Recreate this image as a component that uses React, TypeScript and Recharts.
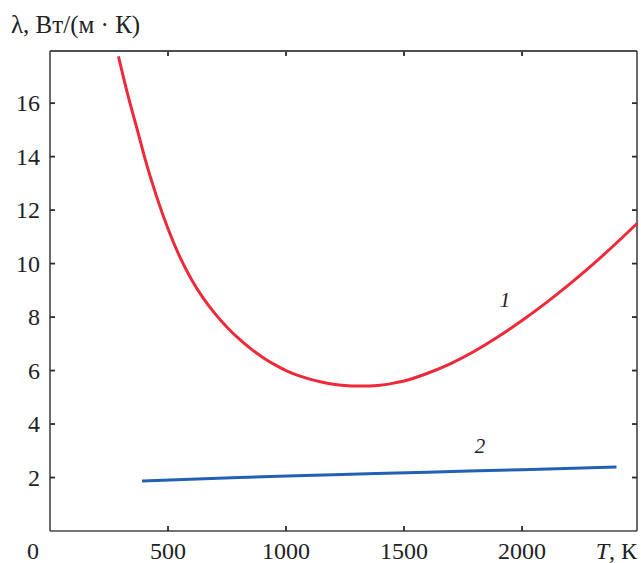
import { LineChart, Line, XAxis, YAxis, ReferenceDot, ReferenceLine } from 'recharts';

// кривая 1
const redT = [290, 330, 370, 400, 450, 500, 550, 600, 650, 700, 750, 800, 850, 900, 950, 1000, 1050, 1100, 1150, 1200, 1250, 1300, 1350, 1400, 1450, 1500, 1600, 1700, 1800, 1900, 2000, 2100, 2200, 2300, 2400, 2487];
const redLambda = [17.75, 16.3, 15.0, 14.0, 12.55, 11.3, 10.25, 9.4, 8.7, 8.12, 7.62, 7.19, 6.82, 6.5, 6.23, 6.0, 5.82, 5.68, 5.57, 5.49, 5.44, 5.42, 5.42, 5.45, 5.52, 5.61, 5.9, 6.27, 6.73, 7.27, 7.87, 8.52, 9.22, 9.97, 10.77, 11.5];

// кривая 2
const blueT = [390, 800, 1200, 1600, 2000, 2400];
const blueLambda = [1.87, 2.0, 2.1, 2.2, 2.29, 2.39];

const xTicks = [0, 500, 1000, 1500, 2000];
const yTicks = [2, 4, 6, 8, 10, 12, 14, 16];
const X_MAX = 2487;
const Y_MAX = 17.95;

const redData = redT.map((T, i) => ({ T, v: redLambda[i] }));
const blueData = blueT.map((T, i) => ({ T, v: blueLambda[i] }));

const W = 641;
const H = 563;
const MARGIN = { top: 51, right: 4, left: 0, bottom: 0 };
const PLOT_RIGHT = W - MARGIN.right;

const FONT = '"Liberation Serif", "Times New Roman", serif';
const AXIS = '#454545';
const TICK = '#2b2b2b';

const BottomTick = ({ x, y, payload }: any) => (
    <g>
        {payload.value !== 0 && <line x1={x} y1={y} x2={x} y2={y - 5} stroke={TICK} strokeWidth={1.8} />}
        <text x={payload.value === 0 ? x - 17 : x} y={y + 28} textAnchor="middle" fontFamily={FONT} fontSize={24} fill="#222">
            {payload.value}
        </text>
    </g>
);

// левые метки, зеркальные риски справа; на Y_MAX — верхняя рамка
const LeftTick = ({ x, y, payload }: any) => {
    if (payload.value === Y_MAX) {
        return <line x1={x} y1={y} x2={PLOT_RIGHT} y2={y} stroke={AXIS} strokeWidth={1.6} />;
    }
    return (
        <g>
            <line x1={x} y1={y} x2={x + 5} y2={y} stroke={TICK} strokeWidth={1.8} />
            <line x1={PLOT_RIGHT} y1={y} x2={PLOT_RIGHT - 5} y2={y} stroke={TICK} strokeWidth={1.8} />
            <text x={x - 10} y={y + 8} textAnchor="end" fontFamily={FONT} fontSize={24} fill="#222">
                {payload.value}
            </text>
        </g>
    );
};

export default function App() {
    return (
        <div style={{ position: 'absolute', left: 0, top: 0, width: W, height: H, background: '#fff' }}>
            <div style={{ position: 'absolute', left: 11, top: 12, fontFamily: FONT, fontSize: 25, lineHeight: '25px', color: '#222', whiteSpace: 'nowrap' }}>
                λ, Вт/(м · К)
            </div>
            <LineChart width={W} height={H} margin={MARGIN}>
                <XAxis
                    dataKey="T"
                    type="number"
                    domain={[0, X_MAX]}
                    ticks={xTicks}
                    height={32}
                    tickSize={0}
                    tickMargin={0}
                    tickLine={false}
                    tick={<BottomTick />}
                    axisLine={{ stroke: AXIS, strokeWidth: 1.6 }}
                    label={{
                        content: ({ viewBox }: any) => (
                            <text x={viewBox.x + viewBox.width} y={viewBox.y + 28} textAnchor="end" fontFamily={FONT} fontSize={24} fill="#222">
                                <tspan fontStyle="italic">T</tspan>, К
                            </text>
                        ),
                    }}
                />
                <YAxis
                    type="number"
                    domain={[0, Y_MAX]}
                    ticks={[...yTicks, Y_MAX]}
                    interval={0}
                    width={50}
                    tickSize={0}
                    tickMargin={0}
                    tickLine={false}
                    tick={<LeftTick />}
                    axisLine={{ stroke: AXIS, strokeWidth: 1.6 }}
                />
                <ReferenceLine y={Y_MAX} stroke={AXIS} strokeWidth={1.6} ifOverflow="visible" />
                <ReferenceLine x={X_MAX} stroke={AXIS} strokeWidth={1.6} ifOverflow="visible" />
                {xTicks.slice(1).map((t) => (
                    <ReferenceLine
                        key={t}
                        segment={[{ x: t, y: Y_MAX }, { x: t, y: Y_MAX - 0.19 }]}
                        stroke={TICK}
                        strokeWidth={1.8}
                        ifOverflow="visible"
                    />
                ))}
                <Line data={redData} dataKey="v" type="monotone" stroke="#ec2a3a" strokeWidth={3} dot={false} isAnimationActive={false} />
                <Line data={blueData} dataKey="v" type="monotone" stroke="#2160b5" strokeWidth={3} dot={false} isAnimationActive={false} />
                <ReferenceDot x={1928} y={8.64} r={0} label={{ value: '1', position: 'center', fontFamily: FONT, fontSize: 21, fontStyle: 'italic', fill: '#222' }} />
                <ReferenceDot x={1822} y={3.2} r={0} label={{ value: '2', position: 'center', fontFamily: FONT, fontSize: 21, fontStyle: 'italic', fill: '#222' }} />
            </LineChart>
        </div>
    );
}
